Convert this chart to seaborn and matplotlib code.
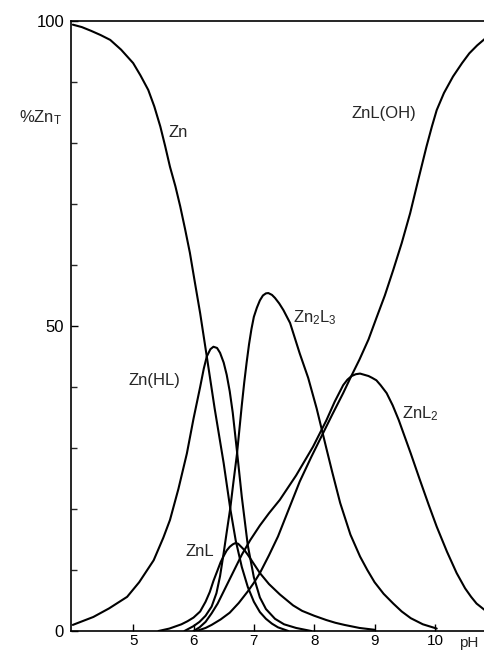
import matplotlib
matplotlib.use("Agg")
import matplotlib.pyplot as plt
import pandas as pd
import seaborn as sns

# ---- data (pH, % of total Zn) ----
zn_ph = [4.0, 4.15, 4.3, 4.46, 4.62, 4.8, 5.0, 5.12, 5.25, 5.35, 5.45, 5.53, 5.61,
         5.7, 5.78, 5.86, 5.94, 6.02, 6.11, 6.22, 6.35, 6.5, 6.61, 6.7, 6.8, 6.9,
         7.0, 7.1, 7.2, 7.3, 7.4, 7.57]
zn_pct = [99.4, 99.0, 98.4, 97.7, 96.9, 95.3, 93.1, 91.1, 88.7, 86.0, 82.7, 79.5, 76.1,
          72.9, 69.6, 65.9, 62.0, 57.3, 52.1, 45.0, 36.5, 27.5, 20.0, 14.8, 10.5, 7.2,
          4.8, 3.1, 2.0, 1.2, 0.6, 0.0]

znhl_ph = [4.0, 4.34, 4.6, 4.9, 5.1, 5.34, 5.5, 5.61, 5.75, 5.89, 6.0, 6.11, 6.17,
           6.22, 6.28, 6.33, 6.39, 6.44, 6.5, 6.55, 6.6, 6.65, 6.72, 6.8, 6.9, 7.0,
           7.1, 7.2, 7.35, 7.5, 7.7, 7.95]
znhl_pct = [1.0, 2.3, 3.7, 5.6, 8.0, 11.6, 15.3, 18.2, 23.3, 29.1, 34.8, 40.0, 43.0,
            45.0, 46.2, 46.6, 46.4, 45.6, 44.0, 42.0, 39.3, 35.8, 29.5, 22.0, 14.0, 8.8,
            5.5, 3.6, 2.0, 1.1, 0.5, 0.0]

znl_ph = [5.42, 5.6, 5.8, 5.9, 6.0, 6.11, 6.2, 6.27, 6.33, 6.4, 6.45, 6.5, 6.55, 6.6,
          6.65, 6.69, 6.74, 6.78, 6.84, 6.9, 7.0, 7.1, 7.25, 7.43, 7.65, 7.8, 8.0, 8.2,
          8.35, 8.5, 8.75, 9.0]
znl_pct = [0.0, 0.4, 1.1, 1.6, 2.2, 3.2, 4.8, 6.4, 8.2, 10.0, 11.3, 12.3, 13.2, 13.8,
           14.2, 14.4, 14.3, 13.9, 13.3, 12.5, 11.0, 9.5, 7.7, 6.0, 4.2, 3.3, 2.5, 1.8,
           1.35, 1.0, 0.5, 0.2]

zn2l3_ph = [5.85, 6.0, 6.1, 6.2, 6.3, 6.38, 6.44, 6.5, 6.55, 6.61, 6.66, 6.72, 6.76,
            6.8, 6.84, 6.88, 6.92, 6.96, 7.0, 7.05, 7.1, 7.15, 7.2, 7.24, 7.3, 7.35,
            7.42, 7.49, 7.6, 7.76, 7.9, 8.04, 8.2, 8.3, 8.43, 8.6, 8.76, 8.88, 9.0,
            9.15, 9.31, 9.45, 9.6, 9.8, 10.03]
zn2l3_pct = [0.0, 0.8, 1.5, 2.5, 4.0, 6.2, 9.0, 12.8, 16.2, 20.2, 24.3, 29.0, 33.0,
             37.0, 40.7, 44.0, 47.0, 49.5, 51.5, 53.0, 54.2, 55.0, 55.35, 55.4, 55.1,
             54.6, 53.7, 52.6, 50.5, 45.5, 41.5, 36.5, 30.0, 26.0, 21.0, 15.8, 12.2,
             10.0, 8.0, 6.1, 4.5, 3.2, 2.1, 1.1, 0.4]

znl2_ph = [6.0, 6.1, 6.2, 6.3, 6.4, 6.5, 6.6, 6.7, 6.8, 6.94, 7.1, 7.25, 7.43, 7.7,
           7.98, 8.2, 8.34, 8.48, 8.55, 8.62, 8.69, 8.76, 8.83, 8.9, 8.96, 9.03, 9.1,
           9.2, 9.3, 9.4, 9.48, 9.6, 9.75, 9.9, 10.03, 10.2, 10.36, 10.5, 10.6, 10.69,
           10.83]
znl2_pct = [0.0, 0.6, 1.5, 2.9, 4.5, 6.5, 8.5, 10.5, 12.5, 14.9, 17.3, 19.3, 21.5, 25.5,
            30.2, 34.5, 37.6, 40.3, 41.2, 41.8, 42.1, 42.2, 42.0, 41.8, 41.5, 41.1, 40.3,
            39.0, 37.0, 34.6, 32.4, 29.1, 24.8, 20.6, 17.1, 13.0, 9.5, 7.0, 5.6, 4.5,
            3.4]

znloh_ph = [6.05, 6.2, 6.3, 6.45, 6.6, 6.75, 6.9, 7.0, 7.1, 7.25, 7.4, 7.58, 7.76,
            7.95, 8.15, 8.3, 8.48, 8.6, 8.75, 8.9, 9.03, 9.17, 9.31, 9.45, 9.59, 9.72,
            9.86, 9.95, 10.03, 10.15, 10.3, 10.45, 10.57, 10.7, 10.83]
znloh_pct = [0.0, 0.5, 1.0, 1.9, 3.0, 4.6, 6.5, 7.9, 9.5, 12.4, 15.5, 20.0, 24.5, 28.5,
             32.5, 35.5, 39.0, 41.5, 44.5, 47.8, 51.3, 55.0, 59.2, 63.6, 68.5, 73.8,
             79.4, 82.7, 85.4, 88.2, 90.9, 93.1, 94.7, 96.0, 97.1]

series = {
    "Zn": (zn_ph, zn_pct),
    "Zn(HL)": (znhl_ph, znhl_pct),
    "ZnL": (znl_ph, znl_pct),
    "Zn2L3": (zn2l3_ph, zn2l3_pct),
    "ZnL2": (znl2_ph, znl2_pct),
    "ZnL(OH)": (znloh_ph, znloh_pct),
}

x_ticks = [5, 6, 7, 8, 9, 10]
y_ticks = [0, 50, 100]
y_minor = [10, 20, 30, 40, 60, 70, 80, 90]

rows = []
for name, (xs, ys) in series.items():
    for x, y in zip(xs, ys):
        rows.append({"species": name, "pH": x, "pct": y})
df = pd.DataFrame(rows)

sns.set_style("ticks")
plt.rcParams["font.family"] = ["Liberation Sans", "DejaVu Sans"]
plt.rcParams["mathtext.fontset"] = "custom"
plt.rcParams["mathtext.rm"] = "Liberation Sans"
plt.rcParams["mathtext.it"] = "Liberation Sans:italic"

fig = plt.figure(figsize=(4.85, 6.51), dpi=100)
ax = fig.add_axes([71 / 485, 20 / 651, 414 / 485, 610 / 651])

sns.lineplot(data=df, x="pH", y="pct", units="species", estimator=None,
             sort=False, color="black", lw=1.5, ax=ax, legend=False)

ax.set_xlim(3.97, 10.83)
ax.set_ylim(0, 100)
ax.set_xlabel("")
ax.set_ylabel("")
ax.set_xticks(x_ticks)
ax.set_xticklabels([str(t) for t in x_ticks])
ax.set_yticks(y_ticks)
ax.set_yticklabels([str(t) for t in y_ticks])
ax.set_yticks(y_minor, minor=True)
ax.tick_params(axis="x", which="major", direction="in", length=5, width=1.0,
               labelsize=11, pad=2.5, colors="black")
ax.tick_params(axis="y", which="major", direction="in", length=5, width=1.0,
               labelsize=12, pad=5, colors="black")
ax.tick_params(axis="y", which="minor", direction="in", length=4, width=1.0)
for side in ["left", "bottom", "top"]:
    ax.spines[side].set_linewidth(1.2)
    ax.spines[side].set_color("black")
ax.spines["right"].set_visible(False)

fs = 12
ax.text(5.58, 81.7, "Zn", fontsize=fs, ha="left", va="center")
ax.text(8.62, 84.8, "ZnL(OH)", fontsize=fs, ha="left", va="center")
ax.text(7.65, 51.3, "Zn$_2$L$_3$", fontsize=fs, ha="left", va="center")
ax.text(4.92, 41.1, "Zn(HL)", fontsize=fs, ha="left", va="center")
ax.text(5.86, 13.1, "ZnL", fontsize=fs, ha="left", va="center")
ax.text(9.45, 35.7, "ZnL$_2$", fontsize=fs, ha="left", va="center")
ax.text(3.82, 84.2, "%Zn$_\\mathrm{T}$", fontsize=fs, ha="right", va="center",
        clip_on=False)
ax.text(10.4, -1.9, "pH", fontsize=11, ha="left", va="center", clip_on=False)

fig.savefig("out.png", dpi=100)
